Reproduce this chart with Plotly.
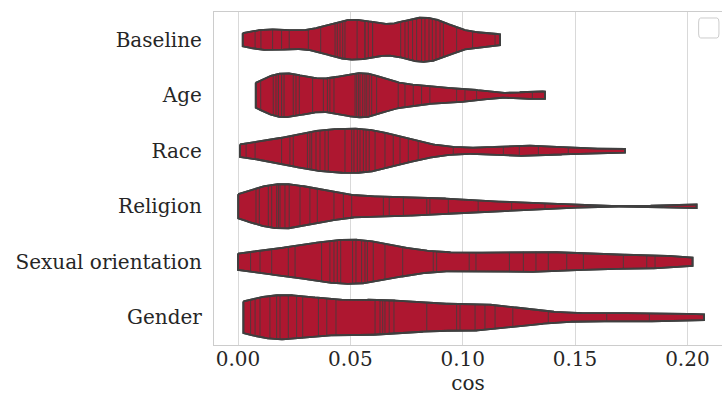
import numpy as np
import plotly.graph_objects as go

categories = ["Baseline", "Age", "Race", "Religion", "Sexual orientation", "Gender"]

baseline = [0.0021, 0.0076, 0.0102, 0.0154, 0.0194, 0.0228, 0.0313, 0.0368, 0.0432, 0.0442,
            0.0454, 0.0466, 0.0476, 0.0530, 0.0565, 0.0565, 0.0580, 0.0599, 0.0599, 0.0724,
            0.0743, 0.0758, 0.0777, 0.0795, 0.0817, 0.0832, 0.0850, 0.0865, 0.0881, 0.0899,
            0.0914, 0.0973, 0.1044, 0.1144, 0.1166]
age = [0.0079, 0.0101, 0.0157, 0.0169, 0.0180, 0.0180, 0.0194, 0.0194, 0.0205, 0.0246,
       0.0258, 0.0273, 0.0332, 0.0380, 0.0398, 0.0409, 0.0427, 0.0521, 0.0528, 0.0536,
       0.0543, 0.0555, 0.0565, 0.0573, 0.0584, 0.0595, 0.0617, 0.0713, 0.0743, 0.0780,
       0.0817, 0.0854, 0.0973, 0.1010, 0.1062, 0.1310, 0.1366]
race = [0.0009, 0.0036, 0.0076, 0.0194, 0.0231, 0.0246, 0.0309, 0.0320, 0.0328, 0.0347,
        0.0365, 0.0387, 0.0402, 0.0476, 0.0506, 0.0516, 0.0531, 0.0543, 0.0558, 0.0570,
        0.0584, 0.0610, 0.0654, 0.0691, 0.0721, 0.0758, 0.0802, 0.0958, 0.1181, 0.1252,
        0.1337, 0.1470, 0.1722]
religion = [0.0001, 0.0080, 0.0095, 0.0135, 0.0150, 0.0172, 0.0180, 0.0180, 0.0187, 0.0209,
            0.0228, 0.0276, 0.0320, 0.0353, 0.0427, 0.0469, 0.0506, 0.0647, 0.0673, 0.0736,
            0.0840, 0.0854, 0.0936, 0.1069, 0.1218, 0.1366, 0.2041]
sexual_orientation = [0.0000, 0.0056, 0.0098, 0.0150, 0.0224, 0.0254, 0.0372, 0.0409, 0.0427,
                      0.0442, 0.0457, 0.0510, 0.0525, 0.0550, 0.0565, 0.0576, 0.0602, 0.0654,
                      0.0733, 0.0869, 0.0884, 0.1029, 0.1059, 0.1208, 0.1270, 0.1326, 0.1381,
                      0.1463, 0.1537, 0.1715, 0.1819, 0.1856, 0.2023]
gender = [0.0024, 0.0056, 0.0076, 0.0098, 0.0142, 0.0172, 0.0187, 0.0224, 0.0261, 0.0288,
          0.0358, 0.0395, 0.0436, 0.0610, 0.0632, 0.0644, 0.0654, 0.0673, 0.0694, 0.0840,
          0.0973, 0.0988, 0.1055, 0.1099, 0.1144, 0.1223, 0.1381, 0.1641, 0.1831, 0.2074]

series = [baseline, age, race, religion, sexual_orientation, gender]

x_ticks = [0.00, 0.05, 0.10, 0.15, 0.20]
x_tick_labels = ["0.00", "0.05", "0.10", "0.15", "0.20"]

FILL = "#AE1730"
EDGE = "#3f3f3f"
TEXT = "#262626"
GRID = "#d9d9d9"
FONT = "DejaVu Serif"
FONT_SIZE = 20
HALF_WIDTH = 0.4
BW_ADJUST = 0.58


def gaussian_kde(values, grid, adjust):
    v = np.asarray(values, dtype=float)
    bw = adjust * v.std(ddof=1) * len(v) ** (-1 / 5)
    z = (grid[:, None] - v[None, :]) / bw
    return np.exp(-0.5 * z ** 2).sum(axis=1) / (len(v) * bw * np.sqrt(2 * np.pi))


fig = go.Figure()

for i, vals in enumerate(series):
    vals = np.asarray(vals)
    grid = np.linspace(vals.min(), vals.max(), 400)
    dens = gaussian_kde(vals, grid, BW_ADJUST)
    scale = HALF_WIDTH / dens.max()
    half = dens * scale

    # violin body (cut at data range)
    xs = np.concatenate([grid, grid[::-1], grid[:1]])
    ys = np.concatenate([i - half, (i + half)[::-1], [i - half[0]]])
    fig.add_trace(go.Scatter(
        x=xs, y=ys, mode="lines", fill="toself", fillcolor=FILL,
        line=dict(color=EDGE, width=1.8), hoverinfo="skip", showlegend=False,
    ))

    # one stick per observation, spanning the density at that value
    stick_half = gaussian_kde(vals, vals, BW_ADJUST) * scale
    sx, sy = [], []
    for v, h in zip(vals, stick_half):
        sx += [v, v, None]
        sy += [i - h, i + h, None]
    fig.add_trace(go.Scatter(
        x=sx, y=sy, mode="lines", line=dict(color=EDGE, width=1),
        opacity=0.8, hoverinfo="skip", showlegend=False,
    ))

    # redraw outline above the sticks
    fig.add_trace(go.Scatter(
        x=xs, y=ys, mode="lines", line=dict(color=EDGE, width=1.8),
        hoverinfo="skip", showlegend=False,
    ))

fig.update_layout(
    width=722, height=403,
    margin=dict(l=214, r=0, t=12, b=58),
    plot_bgcolor="white", paper_bgcolor="white",
    font=dict(family=FONT, size=FONT_SIZE, color=TEXT),
    showlegend=False,
    xaxis=dict(
        range=[-0.01068, 0.2154], tickvals=x_ticks, ticktext=x_tick_labels,
        showgrid=True, gridcolor=GRID, gridwidth=1, zeroline=False,
        showline=True, linecolor="#cccccc", linewidth=1.2, mirror=True,
        ticks="", ticklabelstandoff=-4,
        title=dict(text="cos", standoff=0, font=dict(family=FONT, size=FONT_SIZE, color=TEXT)),
    ),
    yaxis=dict(
        range=[5.5, -0.5], tickvals=list(range(len(categories))), ticktext=categories,
        showgrid=False, zeroline=False,
        showline=True, linecolor="#cccccc", linewidth=1.2, mirror=False,
        ticks="", ticklabelstandoff=7,
    ),
)

# empty legend frame in the upper right corner
fig.add_shape(
    type="path", xref="paper", yref="paper",
    path="M 0.958,0.982 L 0.990,0.982 Q 0.994,0.982 0.994,0.970 L 0.994,0.934 "
         "Q 0.994,0.922 0.990,0.922 L 0.958,0.922 Q 0.954,0.922 0.954,0.934 "
         "L 0.954,0.970 Q 0.954,0.982 0.958,0.982 Z",
    line=dict(color="#cccccc", width=1), fillcolor="white",
)

fig.write_html("out.html")
